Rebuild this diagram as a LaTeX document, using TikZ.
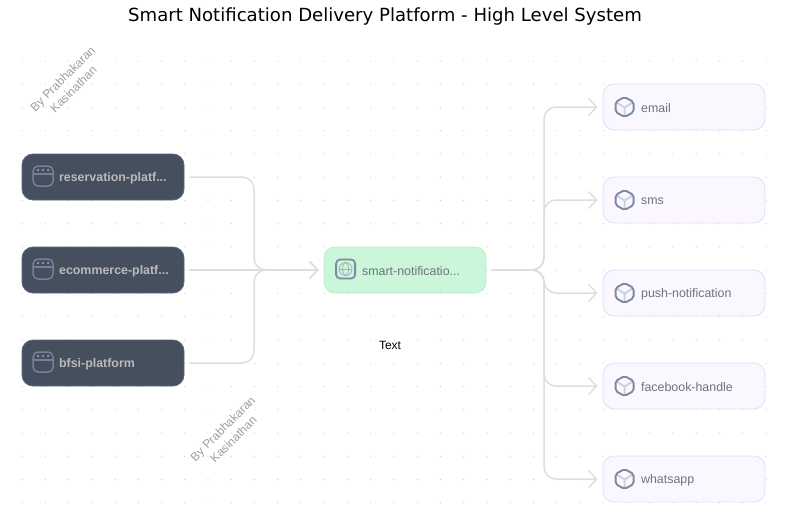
\documentclass[tikz,border=0pt]{standalone}
\usepackage{fontspec}
\setmainfont{Liberation Sans}
\newfontfamily\titlefont{DejaVu Sans}
\usetikzlibrary{arrows.meta,positioning}

\definecolor{linkgray}{HTML}{DEDEDE}
\definecolor{dotgray}{HTML}{C9CCD3}
\definecolor{slatefill}{HTML}{454F5E}
\definecolor{slateline}{HTML}{5E6878}
\definecolor{mintfill}{HTML}{CBF6D9}
\definecolor{mintline}{HTML}{B4EDC8}
\definecolor{lilacfill}{HTML}{FAF7FF}
\definecolor{lilacline}{HTML}{E6DAFB}
\definecolor{icongray}{HTML}{7C8AA3}
\definecolor{iconpale}{HTML}{CDD3E1}
\definecolor{labelgray}{HTML}{6F7280}

\tikzset{
  basebox/.style={rounded corners=11pt, minimum width=162pt, minimum height=46pt, inner sep=0pt, line width=0.8pt},
  sourcebox/.style={basebox, fill=slatefill, draw=slateline},
  hubbox/.style={basebox, fill=mintfill, draw=mintline},
  targetbox/.style={basebox, fill=lilacfill, draw=lilacline},
  sourcetext/.style={font=\fontsize{12.4}{14}\selectfont\bfseries, text=black!27},
  hubtext/.style={font=\fontsize{12.4}{14}\selectfont, text=labelgray},
  targettext/.style={font=\fontsize{12.4}{14}\selectfont, text=labelgray},
  byline/.style={font=\fontsize{12}{15}\selectfont, text=black!38, align=center, rotate=45},
  link/.style={draw=linkgray, line width=1.5pt, rounded corners=12pt, shorten <=5pt, shorten >=5pt,
    -{Straight Barb[length=8pt,width=17pt,line width=1.4pt]}},
  windowicon/.pic={
    \draw[icongray!85!slatefill, line width=1.5pt, rounded corners=5pt] (-10,-10) rectangle (10,10);
    \draw[icongray!85!slatefill, line width=1.4pt] (-10,-2) -- (10,-2);
    \foreach \dotx in {-5,0,5}
      \fill[black!30] (\dotx,-6) circle (1.1pt);
  },
  globeicon/.pic={
    \draw[icongray, fill=mintfill, line width=1.8pt, rounded corners=4pt] (-9.5,-9.5) rectangle (9.5,9.5);
    \draw[icongray!70, line width=0.7pt] (0,0) circle (6.5);
    \draw[icongray!70, line width=0.7pt] (0,0) ellipse (3 and 6.5);
    \draw[icongray!70, line width=0.7pt] (-6.5,0) -- (6.5,0);
  },
  cubeicon/.pic={
    \draw[iconpale, line width=2pt] (-8,-4.5) -- (0,0.5) -- (8,-4.5) (0,0.5) -- (0,9);
    \draw[icongray, line width=1.9pt, rounded corners=2pt] (0,-10) -- (9,-5) -- (9,5) -- (0,10) -- (-9,5) -- (-9,-5) -- cycle;
  }
}

\begin{document}
\begin{tikzpicture}[x=1pt, y=-1pt]
  \useasboundingbox (0,0) rectangle (787,520);

  % Dot grid
  \foreach \i in {0,...,32}
    \foreach \j in {0,...,19}
      \fill[dotgray] ({22+23.25*\i},{61+23.25*\j}) circle (0.6pt);

  % Title
  \node[font=\titlefont\fontsize{18.1}{22}\selectfont] (title) at (385,16.5) {Smart Notification Delivery Platform - High Level System};

  % Watermarks
  \node[byline] (markone) at (68,84) {By Prabhakaran\\Kasinathan};
  \node[byline] (marktwo) at (228,434) {By Prabhakaran\\Kasinathan};
  \node[font=\fontsize{12}{14}\selectfont] (textlabel) at (390,345) {Text};

  % Boxes
  \node[sourcebox] (reservation) at (103,177) {};
  \node[sourcebox] (ecommerce) at (103,270) {};
  \node[sourcebox] (bfsi) at (103,363) {};
  \node[hubbox] (hub) at (405,270) {};
  \node[targetbox] (email) at (684,107) {};
  \node[targetbox] (sms) at (684,200) {};
  \node[targetbox] (push) at (684,293) {};
  \node[targetbox] (facebook) at (684,386) {};
  \node[targetbox] (whatsapp) at (684,479) {};

  % Labels
  \node[sourcetext, right=34pt of reservation.west, yshift=-1.2pt] (reservationtext) {reservation-platf...};
  \node[sourcetext, right=34pt of ecommerce.west, yshift=-1.2pt] (ecommercetext) {ecommerce-platf...};
  \node[sourcetext, right=34pt of bfsi.west, yshift=-1.2pt] (bfsitext) {bfsi-platform};
  \node[hubtext, right=35pt of hub.west, yshift=-1.2pt] (hubtextlabel) {smart-notificatio...};
  \node[targettext, right=35pt of email.west, yshift=-1.2pt] (emailtext) {email};
  \node[targettext, right=35pt of sms.west, yshift=-1.2pt] (smstext) {sms};
  \node[targettext, right=35pt of push.west, yshift=-1.2pt] (pushtext) {push-notification};
  \node[targettext, right=35pt of facebook.west, yshift=-1.2pt] (facebooktext) {facebook-handle};
  \node[targettext, right=35pt of whatsapp.west, yshift=-1.2pt] (whatsapptext) {whatsapp};

  % Icons
  \foreach \boxname in {reservation,ecommerce,bfsi}
    \path (\boxname.west) ++(21.5,-1) pic {windowicon};
  \path (hub.west) ++(22,-1) pic {globeicon};
  \foreach \boxname in {email,sms,push,facebook,whatsapp}
    \path (\boxname.west) ++(22,0) pic {cubeicon};

  % Connectors
  \coordinate (joinleft) at (254,270);
  \coordinate (joinright) at (544,270);
  \draw[link] (reservation.east) -| (joinleft) -- (hub.west);
  \draw[link] (ecommerce.east) -- (hub.west);
  \draw[link] (bfsi.east) -| (joinleft) -- (hub.west);
  \foreach \boxname in {email,sms,push,facebook,whatsapp}
    \draw[link] (hub.east) -- (joinright) |- (\boxname.west);
\end{tikzpicture}
\end{document}
